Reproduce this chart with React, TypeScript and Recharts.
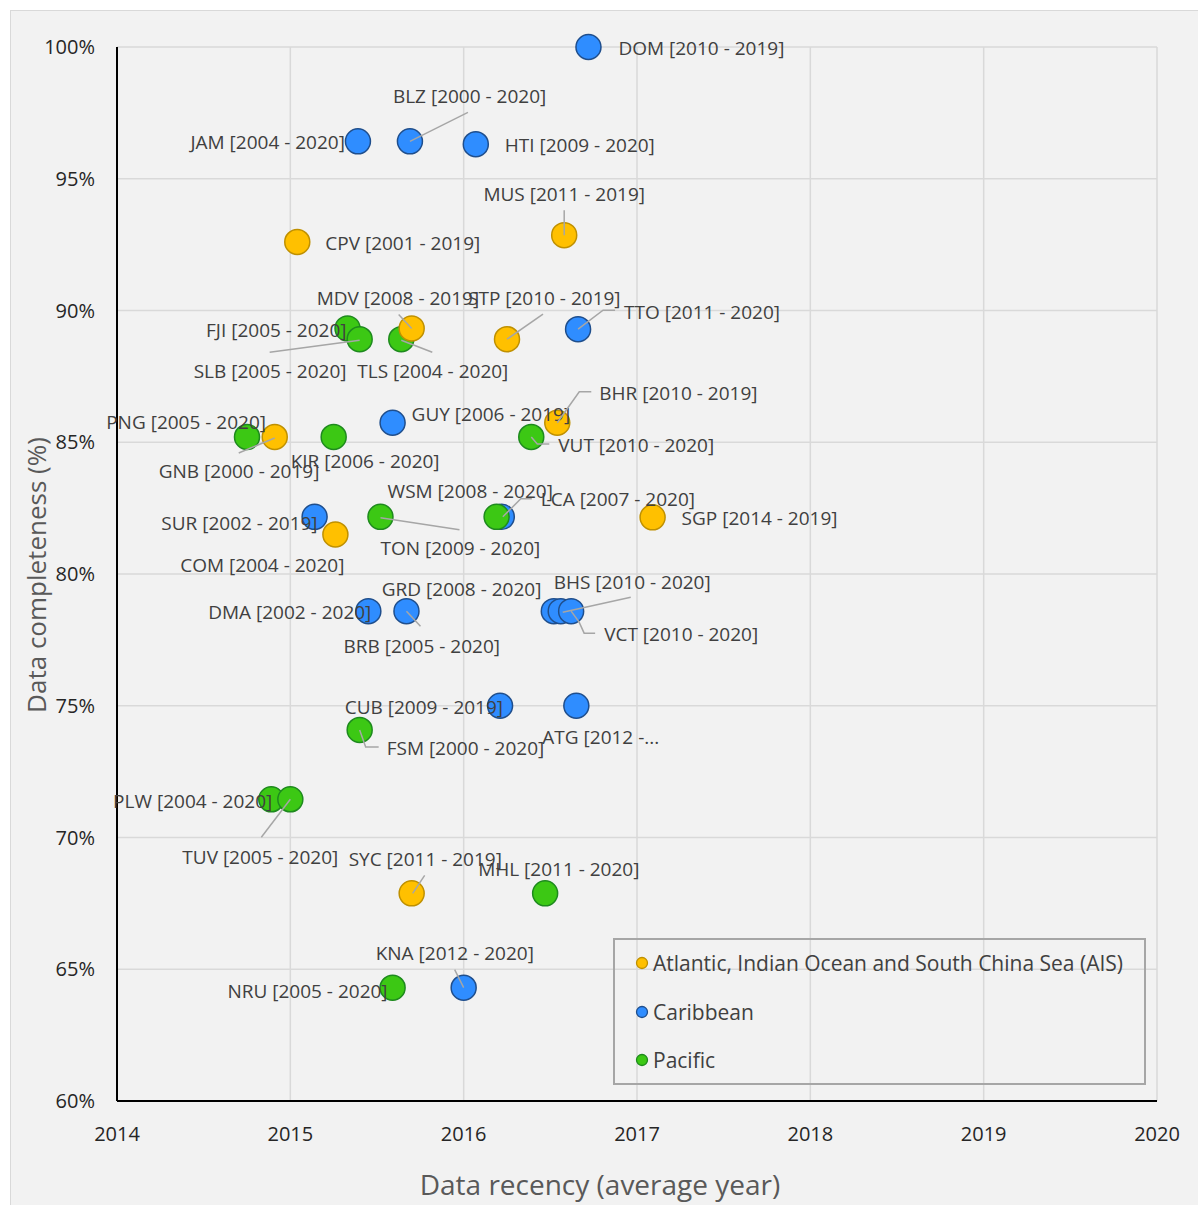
import React from 'react';
import { ScatterChart, Scatter, XAxis, YAxis, CartesianGrid } from 'recharts';

// ---------- data ----------
const xTicks = [2014, 2015, 2016, 2017, 2018, 2019, 2020];
const yTicks = [60, 65, 70, 75, 80, 85, 90, 95, 100];

const seriesNames = ['Atlantic, Indian Ocean and South China Sea (AIS)', 'Caribbean', 'Pacific'];

const aisCodes = ['MUS', 'CPV', 'MDV', 'STP', 'BHR', 'GNB', 'COM', 'SGP', 'SYC'];
const aisLabels = [
  'MUS [2011 - 2019]', 'CPV [2001 - 2019]', 'MDV [2008 - 2019]', 'STP [2010 - 2019]', 'BHR [2010 - 2019]',
  'GNB [2000 - 2019]', 'COM [2004 - 2020]', 'SGP [2014 - 2019]', 'SYC [2011 - 2019]',
];
const aisRecency = [2016.58, 2015.04, 2015.7, 2016.25, 2016.54, 2014.91, 2015.26, 2017.09, 2015.7];
const aisCompleteness = [92.86, 92.6, 89.32, 88.91, 85.74, 85.2, 81.5, 82.15, 67.88];

const carCodes = ['DOM', 'JAM', 'BLZ', 'HTI', 'TTO', 'GUY', 'SUR', 'LCA', 'DMA', 'BRB', 'GRD', 'BHS', 'VCT', 'CUB', 'ATG', 'KNA'];
const carLabels = [
  'DOM [2010 - 2019]', 'JAM [2004 - 2020]', 'BLZ [2000 - 2020]', 'HTI [2009 - 2020]', 'TTO [2011 - 2020]',
  'GUY [2006 - 2019]', 'SUR [2002 - 2019]', 'LCA [2007 - 2020]', 'DMA [2002 - 2020]', 'BRB [2005 - 2020]',
  'GRD [2008 - 2020]', 'BHS [2010 - 2020]', 'VCT [2010 - 2020]', 'CUB [2009 - 2019]', 'ATG [2012 -...',
  'KNA [2012 - 2020]',
];
const carRecency = [2016.72, 2015.39, 2015.69, 2016.07, 2016.66, 2015.59, 2015.14, 2016.22, 2015.45, 2015.67, 2016.52, 2016.56, 2016.62, 2016.21, 2016.65, 2016.0];
const carCompleteness = [100, 96.42, 96.42, 96.31, 89.29, 85.74, 82.17, 82.17, 78.59, 78.59, 78.59, 78.59, 78.59, 75.0, 75.0, 64.3];

const pacCodes = ['FJI', 'SLB', 'TLS', 'PNG', 'KIR', 'VUT', 'TON', 'WSM', 'FSM', 'PLW', 'TUV', 'MHL', 'NRU'];
const pacLabels = [
  'FJI [2005 - 2020]', 'SLB [2005 - 2020]', 'TLS [2004 - 2020]', 'PNG [2005 - 2020]', 'KIR [2006 - 2020]',
  'VUT [2010 - 2020]', 'TON [2009 - 2020]', 'WSM [2008 - 2020]', 'FSM [2000 - 2020]', 'PLW [2004 - 2020]',
  'TUV [2005 - 2020]', 'MHL [2011 - 2020]', 'NRU [2005 - 2020]',
];
const pacRecency = [2015.33, 2015.4, 2015.64, 2014.75, 2015.25, 2016.39, 2015.52, 2016.19, 2015.4, 2014.89, 2015.0, 2016.47, 2015.59];
const pacCompleteness = [89.32, 88.91, 88.91, 85.2, 85.2, 85.2, 82.17, 82.17, 74.08, 71.45, 71.45, 67.88, 64.3];

// ---------- styles / label placement (pixels relative to point) ----------
const COLORS = [
  { fill: '#FFC000', stroke: '#BF9000' },
  { fill: '#2F8DFF', stroke: '#1F4E8C' },
  { fill: '#3CC814', stroke: '#1E8A1E' },
];

type Layout = [string, number, number, number[][]?];
const LABEL_LAYOUT: Record<string, Layout> = {
  DOM: ['start', 30, 1],
  BLZ: ['start', -17, -45, [[0, 0], [58, -29]]],
  JAM: ['end', -13, 1],
  HTI: ['start', 29, 1],
  MUS: ['middle', 0, -41, [[0, 0], [0, -25]]],
  CPV: ['start', 28, 1],
  MDV: ['start', -95, -30, [[0, 0], [-13, -14]]],
  STP: ['start', -39, -41, [[0, 0], [36, -25]]],
  TTO: ['start', 46, -17, [[0, 0], [25, -19], [37, -19]]],
  FJI: ['end', -1, 2],
  SLB: ['start', -166, 32, [[0, 1], [-90, 13]]],
  TLS: ['start', -44, 32, [[0, 1], [31, 13]]],
  GUY: ['start', 19, -8],
  BHR: ['start', 42, -29, [[0, 0], [22, -31], [34, -31]]],
  PNG: ['end', 19, -15],
  GNB: ['start', -116, 34, [[0, 1], [-36, 16]]],
  KIR: ['start', -43, 24],
  VUT: ['start', 27, 8, [[0, 0], [6, 7], [18, 7]]],
  SUR: ['end', 3, 7],
  COM: ['end', 9, 31],
  WSM: ['start', -109, -25],
  TON: ['start', 0, 32, [[0, 1], [79, 13]]],
  LCA: ['start', 39, -17, [[1, 0], [19, -18], [30, -18]]],
  SGP: ['start', 29, 1],
  GRD: ['start', -172, -22],
  DMA: ['end', 3, 1],
  BRB: ['start', -63, 35, [[0, 0], [14, 15]]],
  BHS: ['start', -7, -29, [[2, 1], [70, -14]]],
  VCT: ['start', 33, 23, [[0, 0], [8, 11], [13, 22], [24, 22]]],
  CUB: ['end', 3, 2],
  ATG: ['start', -34, 32],
  FSM: ['start', 27, 18, [[0, 0], [6, 17], [19, 17]]],
  PLW: ['end', 1, 2],
  TUV: ['start', -108, 58, [[0, 0], [-29, 38]]],
  SYC: ['start', -63, -34, [[1, 0], [13, -18]]],
  MHL: ['start', -67, -24],
  KNA: ['start', -88, -34, [[0, 0], [-9, -18]]],
  NRU: ['end', -5, 4],
};

const FONT = '"Open Sans", "Noto Sans", sans-serif';

function build(codes: string[], labels: string[], xs: number[], ys: number[]) {
  return codes.map((c, i) => ({ code: c, label: labels[i], x: xs[i], y: ys[i] }));
}

const aisData = build(aisCodes, aisLabels, aisRecency, aisCompleteness);
const carData = build(carCodes, carLabels, carRecency, carCompleteness);
const pacData = build(pacCodes, pacLabels, pacRecency, pacCompleteness);
const allData = [...carData, ...pacData, ...aisData];

const makeDot = (fill: string, stroke: string) => (p: any) => {
  if (p.cx == null || p.cy == null) return <g />;
  return <circle cx={p.cx} cy={p.cy} r={12.5} fill={fill} stroke={stroke} strokeWidth={1.5} />;
};

const LabelShape = (p: any) => {
  const { cx, cy, payload } = p;
  if (cx == null || cy == null || !payload) return <g />;
  const L = LABEL_LAYOUT[payload.code];
  if (!L) return <g />;
  const [anchor, dx, dy, line] = L;
  return (
    <g>
      {line && (
        <polyline
          points={line.map(([a, b]) => `${cx + a},${cy + b}`).join(' ')}
          fill="none"
          stroke="#A6A6A6"
          strokeWidth={1.5}
        />
      )}
      <text
        x={cx + dx}
        y={cy + dy}
        dy="0.35em"
        textAnchor={anchor as any}
        fontSize={19}
        fill="#404040"
        fontFamily={FONT}
      >
        {payload.label}
      </text>
    </g>
  );
};

export default function App() {
  return (
    <div style={{ position: 'absolute', left: 0, top: 0, width: 1198, height: 1205, background: '#fff', overflow: 'hidden' }}>
      <div
        style={{
          position: 'absolute',
          left: 10,
          top: 10,
          width: 1200,
          height: 1210,
          background: '#F2F2F2',
          borderLeft: '1.5px solid #D9D9D9',
          borderTop: '1.5px solid #D9D9D9',
        }}
      />
      <div style={{ position: 'absolute', left: 0, top: 0 }}>
        <ScatterChart width={1198} height={1205} margin={{ top: 47, right: 41, bottom: 64, left: 57 }}>
          <CartesianGrid stroke="#D9D9D9" strokeWidth={1.5} />
          <XAxis
            type="number"
            dataKey="x"
            domain={[2014, 2020]}
            ticks={xTicks}
            height={40}
            tickLine={false}
            axisLine={{ stroke: '#000', strokeWidth: 2 }}
            tickMargin={20}
            tick={{ fontSize: 20, fill: '#262626', fontFamily: FONT }}
            allowDecimals={false}
          />
          <YAxis
            type="number"
            dataKey="y"
            domain={[60, 100]}
            ticks={yTicks}
            width={60}
            tickLine={false}
            axisLine={{ stroke: '#000', strokeWidth: 2 }}
            tickMargin={16}
            tickFormatter={(v: number) => `${v}%`}
            tick={{ fontSize: 20, fill: '#262626', fontFamily: FONT }}
          />
          <Scatter name={seriesNames[1]} data={carData} isAnimationActive={false} shape={makeDot(COLORS[1].fill, COLORS[1].stroke)} />
          <Scatter name={seriesNames[2]} data={pacData} isAnimationActive={false} shape={makeDot(COLORS[2].fill, COLORS[2].stroke)} />
          <Scatter name={seriesNames[0]} data={aisData} isAnimationActive={false} shape={makeDot(COLORS[0].fill, COLORS[0].stroke)} />
          <Scatter name="labels" data={allData} isAnimationActive={false} shape={LabelShape} />
        </ScatterChart>
      </div>
      {/* axis titles */}
      <div
        style={{
          position: 'absolute',
          left: 36,
          top: 575,
          transform: 'translate(-50%, -50%) rotate(-90deg)',
          whiteSpace: 'nowrap',
          fontFamily: FONT,
          fontSize: 26,
          color: '#595959',
        }}
      >
        Data completeness (%)
      </div>
      <div
        style={{
          position: 'absolute',
          left: 600,
          top: 1184,
          transform: 'translate(-50%, -50%)',
          whiteSpace: 'nowrap',
          fontFamily: FONT,
          fontSize: 28,
          color: '#595959',
        }}
      >
        Data recency (average year)
      </div>
      {/* legend */}
      <div
        style={{
          position: 'absolute',
          left: 613,
          top: 938,
          width: 529,
          height: 143,
          border: '2px solid #A6A6A6',
          fontFamily: FONT,
          fontSize: 21,
          color: '#404040',
        }}
      >
        {[0, 1, 2].map((i) => (
          <div
            key={i}
            style={{ position: 'absolute', left: 20, top: 23 + i * 48.5 - 14, height: 28, display: 'flex', alignItems: 'center', whiteSpace: 'nowrap' }}
          >
            <svg width={14} height={14} style={{ marginRight: 4 }}>
              <circle cx={7} cy={7} r={5.5} fill={COLORS[i].fill} stroke={COLORS[i].stroke} strokeWidth={1.3} />
            </svg>
            <span>{seriesNames[i]}</span>
          </div>
        ))}
      </div>
    </div>
  );
}
